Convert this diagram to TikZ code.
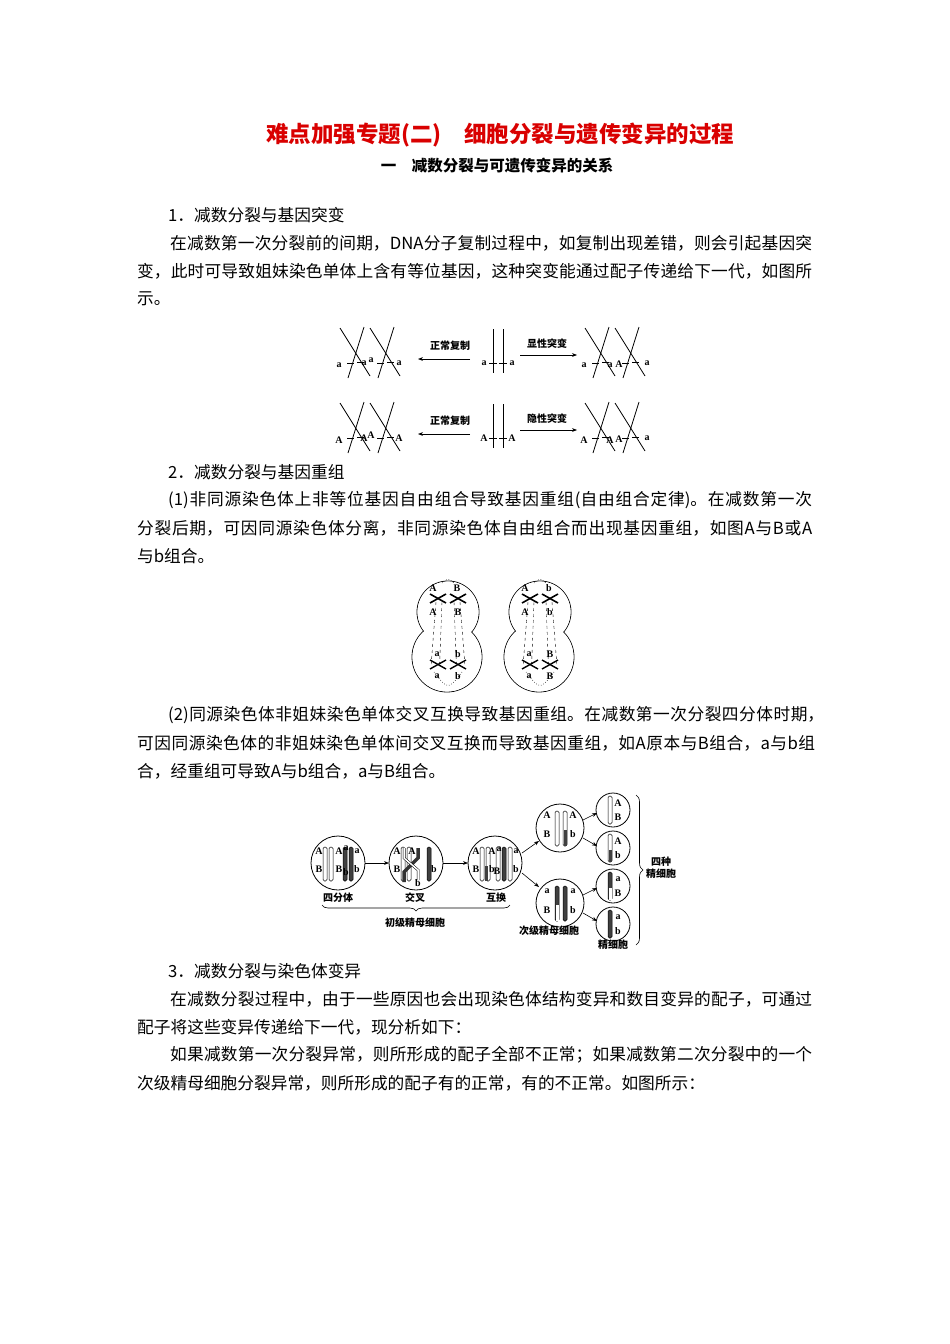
\documentclass[tikz,border=0pt]{standalone}
\usepackage{fontspec}
\setmainfont{Noto Sans CJK SC}
\newfontfamily\lat{Liberation Serif}
\usetikzlibrary{arrows.meta,decorations.pathreplacing,calc}
\XeTeXlinebreaklocale "zh"
\XeTeXlinebreakskip=0pt plus 3pt minus 0.3pt
\tikzset{
 txt/.style={anchor=west,inner sep=0pt,font=\fontsize{16.7}{20}\selectfont},
 lb/.style={inner sep=0pt,font=\lat\bfseries\fontsize{10}{10}\selectfont},
 capt/.style={inner sep=0pt,font=\bfseries\fontsize{10}{12}\selectfont},
 ar/.style={-{Stealth[length=5pt]},line width=0.6pt},
 chl/.style={line width=0.8pt},
 cell/.style={draw,line width=0.8pt},
 wch/.style={draw,fill=white,line width=0.5pt,rounded corners=1.5pt},
 bch/.style={draw,fill=black!75,line width=0.5pt,rounded corners=1.5pt},
}
\newcommand{\jbox}[2]{\parbox{#1pt}{\noindent\parfillskip=0pt\relax #2}}
\newcommand{\oneX}[2]{%
 \draw[chl] (#1-2,#2-24)--(#1+28,#2+24); \draw[chl] (#1+22,#2-25)--(#1+6,#2+26);
 \draw[chl] (#1+5,#2+11)--(#1+12,#2+11); \draw[chl] (#1+15,#2+10)--(#1+22,#2+10);}
\begin{document}
\begin{tikzpicture}[x=1pt,y=-1pt]
\useasboundingbox (0,0) rectangle (950,1344);
\fill[white] (0,0) rectangle (950,1344);
\node[font=\bfseries\fontsize{22.5}{26}\selectfont,text=red!85!black] (title) at (500,135) {难点加强专题(二)\quad 细胞分裂与遗传变异的过程};
\node[font=\bfseries\fontsize{15.5}{18}\selectfont] (sub) at (497,166) {一\quad 减数分裂与可遗传变异的关系};
\node[txt] (l1) at (168,215) {1．减数分裂与基因突变};
\node[txt] (l2) at (170,243) {\jbox{642}{在减数第一次分裂前的间期，DNA分子复制过程中，如复制出现差错，则会引起基因突}};
\node[txt] (l3) at (137,271) {\jbox{675}{变，此时可导致姐妹染色单体上含有等位基因，这种突变能通过配子传递给下一代，如图所}};
\node[txt] (l4) at (137,299) {示。};
\node[txt] (l5) at (168,472) {2．减数分裂与基因重组};
\node[txt] (l6) at (168,500) {\jbox{644}{(1)非同源染色体上非等位基因自由组合导致基因重组(自由组合定律)。在减数第一次}};
\node[txt] (l7) at (137,528) {\jbox{675}{分裂后期，可因同源染色体分离，非同源染色体自由组合而出现基因重组，如图A与B或A}};
\node[txt] (l8) at (137,556) {与b组合。};
\node[txt] (l9) at (168,715) {\jbox{656}{(2)同源染色体非姐妹染色单体交叉互换导致基因重组。在减数第一次分裂四分体时期，}};
\node[txt] (l10) at (137,743) {\jbox{678}{可因同源染色体的非姐妹染色单体间交叉互换而导致基因重组，如A原本与B组合，a与b组}};
\node[txt] (l11) at (137,771) {合，经重组可导致A与b组合，a与B组合。};
\node[txt] (l12) at (168,971) {3．减数分裂与染色体变异};
\node[txt] (l13) at (170,999) {\jbox{642}{在减数分裂过程中，由于一些原因也会出现染色体结构变异和数目变异的配子，可通过}};
\node[txt] (l14) at (137,1027) {配子将这些变异传递给下一代，现分析如下：};
\node[txt] (l15) at (170,1055) {\jbox{642}{如果减数第一次分裂异常，则所形成的配子全部不正常；如果减数第二次分裂中的一个}};
\node[txt] (l16) at (137,1083) {次级精母细胞分裂异常，则所形成的配子有的正常，有的不正常。如图所示：};
% ---------- figure 1 ----------
\foreach \yy/\L/\R/\la/\lb/\lc/\ld/\ma/\mb/\mc/\md/\lab in
 {352/a/a/a/a/a/a/a/a/A/a/显性突变, 427/A/A/A/A/A/A/A/A/A/a/隐性突变}{
 \draw[chl] (493,\yy-23)--(493,\yy+21); \draw[chl] (503,\yy-23)--(503,\yy+21);
 \draw[chl] (489,\yy+11)--(497,\yy+11); \draw[chl] (499,\yy+11)--(507,\yy+11);
 \node[lb] at (484,\yy+11) {\L}; \node[lb] at (512,\yy+11) {\R};
 \oneX{342}{\yy}\oneX{372}{\yy}
 \oneX{587}{\yy}\oneX{617}{\yy}
 \node[lb] at (339,\yy+13) {\la}; \node[lb] at (364,\yy+11) {\lb};
 \node[lb] at (371,\yy+8) {\lc}; \node[lb] at (399,\yy+11) {\ld};
 \node[lb] at (584,\yy+13) {\ma}; \node[lb] at (610,\yy+13) {\mb};
 \node[lb] at (619,\yy+12) {\mc}; \node[lb] at (647,\yy+11) {\md};
 \draw[ar] (470,\yy+7)--(418,\yy+7);
 \draw[ar] (520,\yy+3)--(577,\yy+3);
 \node[capt] at (450,\yy-6) {正常复制};
 \node[capt] at (547,\yy-8) {\lab};
}
% ---------- figure 2 ----------
\foreach \cx/\tl/\tr/\ml/\mr/\bl/\br in {448/A/B/A/B/a/b, 540/A/b/A/b/a/B}{
 \draw[cell] (\cx,612) circle (31); \draw[cell] (\cx-1,657) circle (35);
 \fill[white] (\cx,612) circle (30.5); \fill[white] (\cx-1,657) circle (34.5);
 \foreach \dx in {-12,-6,6,12}{\draw[dashed,line width=0.4pt] (\cx+\dx,602)--(\cx+\dx*1.4,664);}
 \foreach \ox in {-10,10}{
  \draw[line width=1.6pt] (\cx+\ox-8,594)--(\cx+\ox+8,603); \draw[line width=1.6pt] (\cx+\ox-8,603)--(\cx+\ox+8,594);
  \draw[line width=1.4pt] (\cx+\ox-8,660)--(\cx+\ox+8,669); \draw[line width=1.4pt] (\cx+\ox-8,669)--(\cx+\ox+8,660);}
 \node[lb] at (\cx-15,588) {\tl}; \node[lb] at (\cx+9,588) {\tr};
 \node[lb] at (\cx-15,612) {\ml}; \node[lb] at (\cx+10,612) {\mr};
 \node[lb] at (\cx-11,654) {\bl}; \node[lb] at (\cx+10,654) {\br};
 \node[lb] at (\cx-11,676) {\bl}; \node[lb] at (\cx+10,676) {\br};
 \draw[dotted,line width=0.6pt] (\cx-14,672) .. controls (\cx,690) .. (\cx+14,672);
 \draw[dotted,line width=0.6pt] (\cx-6,583) .. controls (\cx,578) .. (\cx+6,583);
}
% ---------- figure 3 ----------
\foreach \n/\cx/\cy/\r in {c1/338/863/27, c2/416/863/27, c3/495/863/27, s1/560/828/24, s2/560/903/24, g1/613/810/17, g2/613/848/17, g3/613/886/17, g4/613/924/17}{
 \draw[cell] (\cx,\cy) circle (\r); \coordinate (\n) at (\cx,\cy);}
\foreach \dx/\st in {-13/wch,-7/wch,7/bch,13/bch}{\draw[\st] (338+\dx-2,847) rectangle (338+\dx+2,881);}
\node[lb] at (319,851){A};\node[lb] at (319,869){B};\node[lb] at (339,851){A};\node[lb] at (339,869){B};
\node[lb] at (346,848){a};\node[lb] at (346,872){b};\node[lb] at (357,851){a};\node[lb] at (357,869){b};
\foreach \dx/\st in {-13/wch,-7/wch,13/bch}{\draw[\st] (416+\dx-2,847) rectangle (416+\dx+2,881);}
\draw[line width=3.5pt,black!80] (418,848)--(418,858)--(404,872)--(404,882);
\draw[line width=2.5pt] (404,848)--(404,858)--(418,870)--(418,880);
\draw[line width=1.5pt,white] (404,848)--(404,858)--(418,870)--(418,880);
\node[lb] at (397,851){A};\node[lb] at (397,869){B};\node[lb] at (412,851){A};\node[lb] at (434,869){b};\node[lb] at (418,883){b};
\foreach \dx/\st in {-13/wch,-7/wch,3/wch,9/bch,15/wch}{\draw[\st] (495+\dx-2,847) rectangle (495+\dx+2,881);}
\fill[black!75] (484.5,866) rectangle (487.5,881);
\node[lb] at (476,851){A};\node[lb] at (476,869){B};\node[lb] at (492,851){A};\node[lb] at (499,849){a};
\node[lb] at (492,869){b};\node[lb] at (497,871){B};\node[lb] at (516,851){a};\node[lb] at (516,869){b};
\draw[wch] (555,811) rectangle (559,846); \draw[wch] (563,811) rectangle (567,846); \fill[black!75] (563.5,830) rectangle (566.5,846);
\node[lb] at (547,815){A};\node[lb] at (547,834){B};\node[lb] at (573,815){A};\node[lb] at (573,834){b};
\draw[bch] (555,886) rectangle (559,921); \draw[bch] (563,886) rectangle (567,921); \fill[white] (555.5,905) rectangle (558.5,920.5);
\node[lb] at (547,891){a};\node[lb] at (547,910){B};\node[lb] at (573,891){a};\node[lb] at (573,910){b};
\foreach \g/\t/\ut/\dt in {g1/wch/A/B, g2/wch/A/b, g3/bch/a/B, g4/bch/a/b}{
 \draw[\t] ($(\g)+(-5,-14)$) rectangle ($(\g)+(-1,14)$);
 \node[lb] at ($(\g)+(5,-7)$) {\ut}; \node[lb] at ($(\g)+(5,7)$) {\dt};}
\fill[black!75] (608.5,850) rectangle (611.5,861.5);
\fill[white] (608.5,888) rectangle (611.5,899.5);
\draw[ar] ($(c1)+(27,0)$) -- ($(c2)+(-27,0)$);
\draw[ar] ($(c2)+(27,0)$) -- ($(c3)+(-27,0)$);
\draw[ar] (522,853)--(539,841);
\draw[ar] (522,873)--(539,887);
\draw[ar] (583,820)--(597,813);
\draw[ar] (583,838)--(597,846);
\draw[ar] (583,895)--(597,888);
\draw[ar] (583,913)--(597,921);
\node[capt] (q1) at (338,898) {四分体};
\node[capt] (q2) at (415,898) {交叉};
\node[capt] (q3) at (496,898) {互换};
\draw[line width=0.6pt,decorate,decoration={brace,mirror,amplitude=6pt}] (322,905)--(510,905);
\node[capt] (q4) at (415,923) {初级精母细胞};
\node[capt] (q5) at (549,931) {次级精母细胞};
\node[capt] (q6) at (613,945) {精细胞};
\draw[line width=0.6pt,decorate,decoration={brace,amplitude=7pt}] (636,795)--(636,945);
\node[capt,align=center] (q7) at (661,868) {四种\\精细胞};
\end{tikzpicture}
\end{document}
